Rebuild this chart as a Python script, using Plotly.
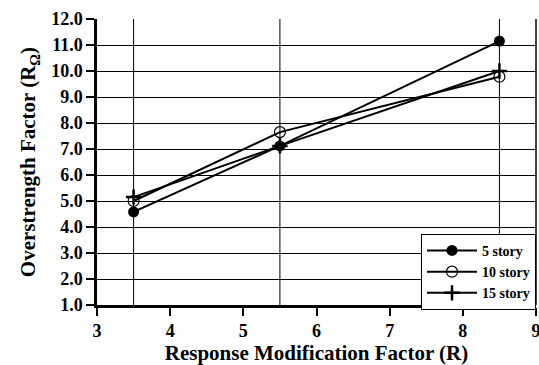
import plotly.graph_objects as go

# Response modification factor (R) for each building height
r_factor = [3.5, 5.5, 8.5]
# Overstrength factor per building height
story5 = [4.58, 7.12, 11.15]
story10 = [5.0, 7.65, 9.78]
story15 = [5.15, 7.12, 10.0]

x_ticks = [3, 4, 5, 6, 7, 8, 9]
y_ticks = [1.0, 2.0, 3.0, 4.0, 5.0, 6.0, 7.0, 8.0, 9.0, 10.0, 11.0, 12.0]

font = "Liberation Serif, Times New Roman, serif"

fig = go.Figure()
fig.add_trace(go.Scatter(
    x=r_factor, y=story5, name="5 story", mode="lines+markers",
    line=dict(color="black", width=2),
    marker=dict(symbol="circle", size=11, color="black"),
))
fig.add_trace(go.Scatter(
    x=r_factor, y=story10, name="10 story", mode="lines+markers",
    line=dict(color="black", width=2),
    marker=dict(symbol="circle-open", size=11, color="black", line=dict(width=1.2)),
))
fig.add_trace(go.Scatter(
    x=r_factor, y=story15, name="15 story", mode="lines+markers",
    line=dict(color="black", width=2),
    marker=dict(symbol="cross-thin-open", size=11, color="black", line=dict(width=2.5, color="black")),
))

# vertical reference lines at each R value
for xv in r_factor:
    fig.add_shape(type="line", xref="x", yref="paper", x0=xv, x1=xv, y0=0, y1=1,
                  line=dict(color="black", width=1), layer="below")

fig.update_layout(
    width=539, height=365,
    margin=dict(l=97, r=3, t=19, b=60),
    paper_bgcolor="white", plot_bgcolor="white",
    font=dict(family=font, color="black", size=16),
    showlegend=True,
    legend=dict(
        x=1, y=-0.017, xanchor="right", yanchor="bottom",
        bgcolor="white", bordercolor="black", borderwidth=1,
        font=dict(family=font, size=14, color="black", weight="bold"),
        tracegroupgap=0, itemwidth=50,
    ),
    xaxis=dict(
        range=[3, 9], tickvals=x_ticks, ticktext=[str(v) for v in x_ticks],
        showgrid=False, zeroline=False, automargin=False,
        showline=True, linecolor="black", linewidth=2.5, mirror=False,
        ticks="outside", ticklen=8, tickwidth=2, tickcolor="black",
        ticklabeloverflow="allow",
        tickfont=dict(family=font, size=18, color="black", weight="bold"),
        title=dict(text="Response Modification Factor (R)", standoff=2,
                   font=dict(family=font, size=21, color="black", weight="bold")),
    ),
    yaxis=dict(
        range=[1, 12], tickvals=y_ticks, ticktext=[f"{v:.1f}" for v in y_ticks],
        showgrid=True, gridcolor="black", gridwidth=1, zeroline=False,
        showline=True, linecolor="black", linewidth=2.5,
        ticks="outside", ticklen=8, tickwidth=2, tickcolor="black",
        tickfont=dict(family=font, size=18, color="black", weight="bold"),
        title=dict(text="Overstrength Factor (R<sub>Ω</sub>)", standoff=10,
                   font=dict(family=font, size=21, color="black", weight="bold")),
    ),
)

# right border of the plot frame
fig.add_shape(type="line", xref="paper", yref="paper", x0=1, x1=1, y0=0, y1=1,
              line=dict(color="black", width=1.5))

fig.write_html("out.html")
